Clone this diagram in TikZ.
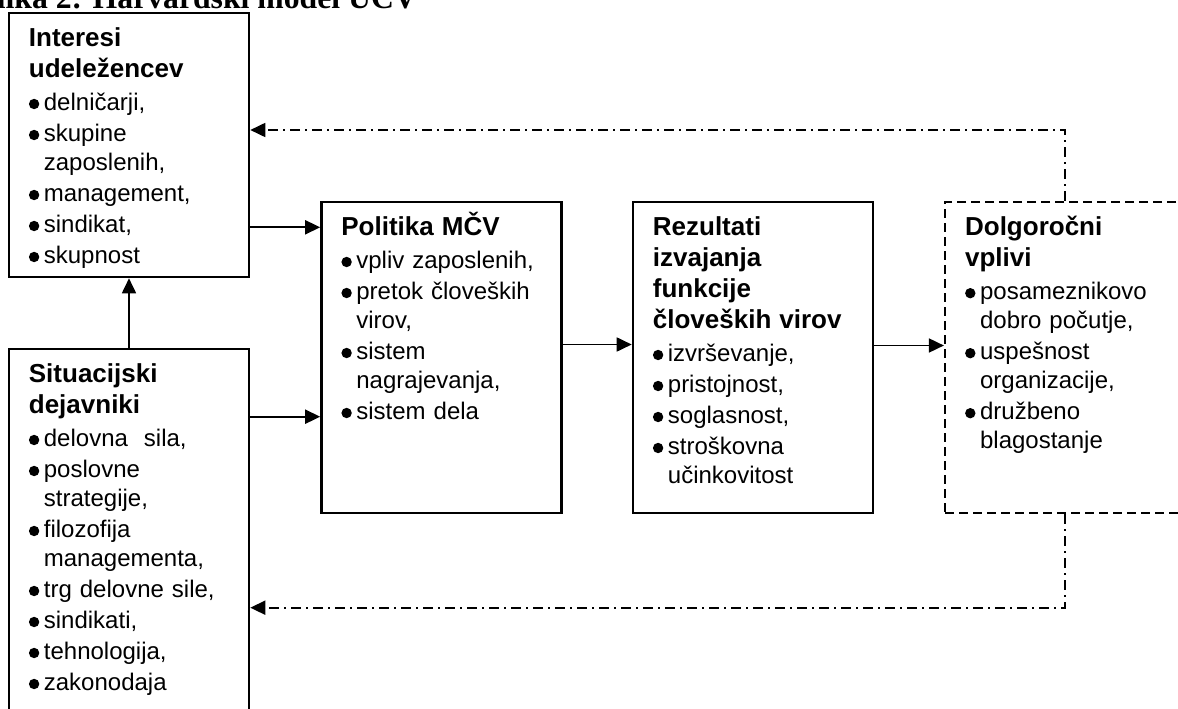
\documentclass[tikz,border=0pt]{standalone}
\usepackage{fontspec}
\setmainfont{Liberation Sans}
\newfontfamily\serifbold{Liberation Serif}
\usetikzlibrary{arrows.meta}

% heading and bullet line inside a box
\newcommand\hd[1]{{\fontsize{26}{31}\selectfont\bfseries #1\par}\vspace{2pt}}
\newcommand\bl[1]{\par\vspace{2pt}\hangindent=15pt\hangafter=1\noindent
  \hbox to 15pt{\raisebox{1.5pt}{\tikz\fill (0,0) circle (5.2pt);}\hss}#1\par}

\begin{document}
\begin{tikzpicture}[x=1pt,y=-1pt,
  box/.style={draw,line width=2.6pt,minimum width=240pt,inner sep=0pt},
  dbox/.style={draw,line width=2.2pt,dash pattern=on 9pt off 5pt,minimum width=240pt,inner sep=0pt},
  txt/.style={anchor=base west,inner sep=0pt,text width=220pt,align=left,
    font=\fontsize{24}{29}\selectfont},
  arr/.style={line width=1.8pt,-{Triangle[length=15pt,width=14pt]}},
  fb/.style={arr,dash pattern=on 10pt off 5pt on 2pt off 5pt}]
\useasboundingbox (0,0) rectangle (1178,709);
\clip (0,0) rectangle (1178,709);
\fill[white] (0,0) rectangle (1178,709);
%
\node[anchor=base east,inner sep=0pt,font=\fontsize{31.7}{32}\serifbold\bfseries]
  (title) at (417,9) {Slika 2: Harvardski model UČV};
%
\node[box,minimum height=264pt] (interesi)  at (129,145)    {};
\node[box,minimum height=376pt] (situ)      at (129,537)    {};
\node[box,minimum height=311pt] (politika)  at (441.5,357.5) {};
\node[box,minimum height=311pt] (rezultati) at (753,357.5)  {};
\node[dbox,minimum height=311pt] (vplivi)   at (1065,357.5) {};
%
\begin{scope}
\clip (interesi.north west) rectangle ([shift={(0,-11)}]interesi.south east);
\node[txt] (interesi-t) at ([shift={(21,35)}]interesi.north west)
  {\hd{Interesi\newline udeležencev}\bl{delničarji,}\bl{skupine\newline zaposlenih,}%
   \bl{management,}\bl{sindikat,}\bl{skupnost}};
\end{scope}
\node[txt] (situ-t) at ([shift={(21,35)}]situ.north west)
  {\hd{Situacijski\newline dejavniki}\bl{delovna\ \ sila,}\bl{poslovne\newline strategije,}%
   \bl{filozofija\newline managementa,}\bl{trg delovne sile,}\bl{sindikati,}%
   \bl{tehnologija,}\bl{zakonodaja}};
\node[txt] (politika-t) at ([shift={(21,35)}]politika.north west)
  {\hd{Politika MČV}\bl{vpliv zaposlenih,}\bl{pretok človeških\newline virov,}%
   \bl{sistem\newline nagrajevanja,}\bl{sistem dela}};
\node[txt] (rezultati-t) at ([shift={(21,35)}]rezultati.north west)
  {\hd{Rezultati\newline izvajanja\newline funkcije\newline človeških virov}%
   \bl{izvrševanje,}\bl{pristojnost,}\bl{soglasnost,}\bl{stroškovna\newline učinkovitost}};
\node[txt] (vplivi-t) at ([shift={(21,35)}]vplivi.north west)
  {\hd{Dolgoročni\newline vplivi}\bl{posameznikovo\newline dobro počutje,}%
   \bl{uspešnost\newline organizacije,}\bl{družbeno\newline blagostanje}};
%
\draw[arr] (situ.north) -- (interesi.south);
\draw[arr] ([shift={(0,-51)}]interesi.south east) coordinate (i1) -- (i1 -| politika.west);
\draw[arr] ([shift={(0,69)}]situ.north east) coordinate (s1) -- (s1 -| politika.west);
\draw[arr] ([shift={(0,-13)}]politika.east) -- ([shift={(0,-13)}]rezultati.west);
\draw[arr] ([shift={(0,-12)}]rezultati.east) -- ([shift={(0,-12)}]vplivi.west);
\draw[fb] (vplivi.north) |- ([shift={(0,-15)}]interesi.east);
\draw[fb] (vplivi.south) |- ([shift={(0,260)}]situ.north east);
\end{tikzpicture}
\end{document}
